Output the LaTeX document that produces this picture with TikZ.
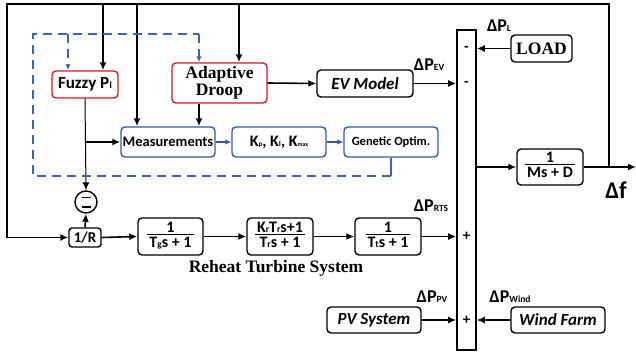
\documentclass[tikz,border=0pt]{standalone}
\usepackage{fontspec}
\setmainfont{Liberation Serif}
\setsansfont{Carlito}
\usetikzlibrary{arrows.meta,calc}
\definecolor{myred}{RGB}{200,30,40}
\definecolor{myblue}{RGB}{50,90,165}
\definecolor{dashblue}{RGB}{60,100,175}
\setlength\arrayrulewidth{1pt}
\newcommand\blkfrac[2]{\begin{tabular}{@{\hspace{2pt}}c@{\hspace{2pt}}}#1\\[-3pt]\hline\rule{0pt}{12.5pt}#2\end{tabular}}
\newcommand\fsz[1]{\fontsize{#1}{#1}\selectfont}
\tikzset{
 box/.style={draw, rounded corners=4pt, line width=1.4pt, inner sep=0pt, fill=white,
   font=\sffamily\bfseries\fsz{16}, align=center},
 redbox/.style={box, draw=myred},
 bluebox/.style={box, draw=myblue},
 conn/.style={line width=1.6pt, -{Latex[length=8pt,width=7pt]}},
 thinconn/.style={line width=1pt, -{Latex[length=8pt,width=7pt]}},
 bconn/.style={line width=1.2pt, draw=myblue, -{Latex[length=6pt,width=5.5pt]}},
 dsh/.style={line width=1.2pt, draw=dashblue, dash pattern=on 9pt off 6pt},
 dshconn/.style={dsh, -{Latex[length=6pt,width=5.5pt]}, fill=dashblue},
 lbl/.style={font=\sffamily\bfseries\fsz{18}, inner sep=0pt},
 sgn/.style={font=\sffamily\bfseries\fsz{15}, inner sep=0pt},
}
\newcommand\sub[1]{{\fsz{9.5}#1}}
\begin{document}
\begin{tikzpicture}[x=1pt,y=-1pt]
\useasboundingbox (0,0) rectangle (636,355);
% main boxes
\node[redbox, font=\sffamily\bfseries\fsz{17}, minimum width=66pt, minimum height=27pt] (fuzzy) at (85,84.5) {Fuzzy P{\fsz{10}I}};
\node[redbox, font=\rmfamily\bfseries\fsz{17.5}, minimum width=95pt, minimum height=40pt] (droop) at (219.5,83) {Adaptive\\[-0.5pt]Droop};
\node[box, font=\sffamily\bfseries\itshape\fsz{17}, minimum width=96pt, minimum height=27pt] (ev) at (365,83.5) {EV Model};
\node[box, font=\rmfamily\bfseries\fsz{17.5}, minimum width=61pt, minimum height=27pt] (load) at (541.5,48.5) {LOAD};
\node[draw, line width=1.6pt, minimum width=19pt, minimum height=320pt, inner sep=0pt] (bar) at (466.5,190) {};
\node[bluebox, font=\sffamily\bfseries\fsz{14.5}, minimum width=94pt, minimum height=30pt] (meas) at (168,142) {Measurements};
\node[bluebox, font=\sffamily\bfseries\fsz{16}, minimum width=94pt, minimum height=30pt] (kp) at (279,142) {K{\fsz{7}p}, K{\fsz{8}I}, K{\fsz{6}max}};
\node[bluebox, font=\sffamily\bfseries\fsz{12.5}, minimum width=94pt, minimum height=30pt] (gen) at (391,142) {Genetic Optim.};
\node[box, minimum width=66pt, minimum height=36pt] (ms) at (550,167) {\blkfrac{1}{Ms + D}};
\node[draw, circle, minimum size=22pt, inner sep=0pt, line width=1.4pt] (sum) at (86,202) {};
\node[box, font=\sffamily\bfseries\fsz{15}, minimum width=32pt, minimum height=19pt, rounded corners=3pt] (rin) at (85,237.5) {1/R};
\node[box, minimum width=65pt, minimum height=37pt] (tg) at (170.5,236.5) {\blkfrac{1}{T\sub{g}s + 1}};
\node[box, minimum width=66pt, minimum height=37pt] (kr) at (280,236.5) {\blkfrac{K\sub{r}T\sub{r}s+1}{T\sub{r}s + 1}};
\node[box, minimum width=66pt, minimum height=37pt] (tt) at (388,236.5) {\blkfrac{1}{T\sub{t}s + 1}};
\node[box, font=\sffamily\bfseries\itshape\fsz{17}, minimum width=94pt, minimum height=26pt] (pv) at (374,320) {PV System};
\node[box, font=\sffamily\bfseries\itshape\fsz{17}, minimum width=94pt, minimum height=26pt] (wind) at (558,320) {Wind Farm};
\node[font=\rmfamily\bfseries\fsz{17.5}, inner sep=0pt] (rts) at (276,268) {Reheat Turbine System};
% signs on summing bar
\node[sgn] (s1) at (bar.center |- load.west) {-};
\node[sgn] (s2) at (bar.center |- ev.east) {-};
\node[sgn] (s3) at (bar.center |- tt.east) {+};
\node[sgn] (s4) at (bar.center |- pv.east) {+};
% labels
\node[lbl] (lpl) at (499,26) {ΔP\sub{L}};
\node[lbl] (lpev) at (429,65) {ΔP\sub{EV}};
\node[lbl] (lprts) at (431,206) {ΔP\sub{RTS}};
\node[lbl] (lppv) at (432,297) {ΔP\sub{PV}};
\node[lbl] (lpw) at (510,297) {ΔP\sub{Wind}};
\node[lbl, font=\sffamily\bfseries\fsz{24}] (ldf) at (616,190) {Δf};
% minus marks in the circle
\draw[line width=1.2pt] ($(sum.center)+(-4.5,-4.5)$) -- ++(9,0);
\draw[line width=1.2pt] ($(sum.center)+(-4.5,5)$) -- ++(9,0);
% coordinates
\coordinate (tl) at (7,4);
\coordinate (fj) at (609,167);
\coordinate (fout) at (636,167);
\coordinate (xf) at ($(fuzzy.north)+(18,0)$);
\coordinate (xfz) at ($(fuzzy.north)+(-17,0)$);
\coordinate (xm) at ($(meas.north)+(-31,0)$);
\coordinate (xd) at ($(droop.north)+(19.5,0)$);
\coordinate (xdb) at ($(droop.south)+(-20.5,0)$);
\coordinate (br) at (fuzzy.south |- meas.west);
\coordinate (dl) at (33,34);
\coordinate (dbot) at (391,176);
% feedback
\draw[conn] (ms.east) -- (fout);
\draw[conn] (fj) |- (tl) |- (rin.west);
\draw[conn] (xf |- tl) -- (xf |- fuzzy.north);
\draw[conn] (xm |- tl) -- (xm |- meas.north);
\draw[conn] (xd |- tl) -- (xd |- droop.north);
\draw[conn] (xdb |- droop.south) -- (xdb |- meas.north);
\draw[conn] (droop.east) -- (ev.west);
\draw[conn] (ev.east) -- (bar.west |- ev.east);
\draw[conn] (load.west) -- (bar.east |- load.west);
\draw[conn] (bar.east |- ms.west) -- (ms.west);
\draw[bconn] (meas.east) -- (kp.west);
\draw[bconn] (kp.east) -- (gen.west);
\draw[thinconn] (fuzzy.south) -- (sum.north);
\draw[conn] (br) -- (meas.west);
\draw[conn] (rin.north) -- (sum.south);
\draw[conn] (rin.east) -- (tg.west);
\draw[conn] (tg.east) -- (kr.west);
\draw[conn] (kr.east) -- (tt.west);
\draw[conn] (tt.east) -- (bar.west |- tt.east);
\draw[conn] (pv.east) -- (bar.west |- pv.east);
\draw[conn] (wind.west) -- (bar.east |- wind.west);
% dashed adaptation loop
\draw[line width=1.2pt, draw=dashblue] (gen.south) -- (dbot);
\draw[dsh] (dbot) -- (dl |- dbot) -- (dl) -- (xdb |- dl);
\draw[dshconn] (xdb |- dl) -- (xdb |- droop.north);
\draw[dshconn] (xfz |- dl) -- (xfz |- fuzzy.north);
\end{tikzpicture}
\end{document}
